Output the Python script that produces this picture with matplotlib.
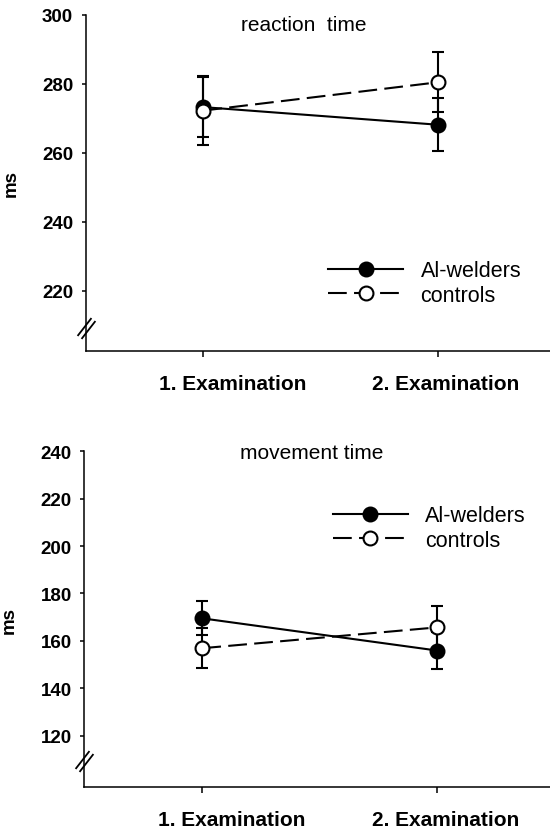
import numpy as np
import matplotlib
matplotlib.use("Agg")
import matplotlib.pyplot as plt
import matplotlib.transforms as mtransforms
from matplotlib.path import Path

plt.rcParams['font.family'] = ['Liberation Sans', 'DejaVu Sans']

# data
exams = ["1. Examination", "2. Examination"]
groups = ["Al-welders", "controls"]

rt_welders = [273.2, 268.1]
rt_welders_err = [8.7, 7.7]
rt_controls = [272.2, 280.4]
rt_controls_err = [10.0, 8.7]
rt_ticks = [220, 240, 260, 280, 300]

mt_welders = [169.5, 155.9]
mt_welders_err = [7.2, 7.8]
mt_controls = [156.9, 165.7]
mt_controls_err = [8.4, 8.9]
mt_ticks = [120, 140, 160, 180, 200, 220, 240]

x = np.arange(1, len(exams) + 1)

fig = plt.figure(figsize=(5.5, 8.29), dpi=100)
W, H = 550, 829

# axes boxes in pixels: left, top, bottom
ax1 = fig.add_axes([85.7 / W, 1 - 352.3 / H, 1 - 85.7 / W, (352.3 - 15.7) / H])
ax2 = fig.add_axes([84.3 / W, 1 - 788.3 / H, 1 - 84.3 / W, (788.3 - 452.3) / H])

# "//" axis break marker
brk = Path([(-9, -7.5), (5, 10.5), (-5, -10.5), (9, 7.5)],
           [Path.MOVETO, Path.LINETO, Path.MOVETO, Path.LINETO])


def panel(ax, title, title_xy, w, werr, c, cerr, ylim, ticks, brk_y, leg_px):
    ax.errorbar(x, w, yerr=werr, fmt="none", ecolor="black", elinewidth=1.5,
                capsize=4.6, capthick=1.5, zorder=2)
    ax.errorbar(x, c, yerr=cerr, fmt="none", ecolor="black", elinewidth=1.5,
                capsize=4.6, capthick=1.5, zorder=2)
    lw, = ax.plot(x, w, color="black", lw=1.5, marker="o", ms=10,
                  mfc="black", mec="black", mew=1.5, zorder=3, label=groups[0])
    lc, = ax.plot(x, c, color="black", lw=1.5, ls=(0, (9, 3.5)), marker="o",
                  ms=10, mfc="white", mec="black", mew=1.5, zorder=4,
                  label=groups[1])

    ax.set_xlim(0.498, 2.479)
    ax.set_ylim(*ylim)
    ax.set_yticks(ticks)
    ax.set_xticks(x)
    ax.set_xticklabels([])
    # category labels sit a bit right of their ticks in the original
    trans = mtransforms.blended_transform_factory(ax.transData, ax.transAxes)
    for xi, lab, dx in zip(x, exams, [21.4, 5.8]):
        off = mtransforms.ScaledTranslation(dx / 72, -16 / 72, fig.dpi_scale_trans)
        ax.text(xi, 0, lab, transform=trans + off, ha="center", va="top",
                fontsize=15, fontweight="bold", clip_on=False)
    for lab in ax.get_yticklabels():
        lab.set_fontweight("bold")
        lab.set_fontsize(13.5)
    ax.tick_params(axis="y", length=3, width=1.1, pad=6, direction="out")
    ax.tick_params(axis="x", length=4, width=1.1, direction="out")

    for s in ["top", "right"]:
        ax.spines[s].set_visible(False)
    for s in ["left", "bottom"]:
        ax.spines[s].set_linewidth(1.1)

    ax.set_ylabel("ms", fontsize=13.5, fontweight="bold")
    ax.yaxis.set_label_coords(-0.142, 0.5)

    ax.text(title_xy[0], title_xy[1], title, transform=ax.transAxes,
            ha="center", va="center", fontsize=15)

    ax.plot([0], [brk_y], transform=ax.transAxes, marker=brk, ms=15,
            mec="black", mew=1.3, ls="none", clip_on=False, zorder=5)

    ax.legend(handles=[lw, lc], loc="center left", frameon=False, fontsize=15.5,
              bbox_to_anchor=(leg_px[0] / W, 1 - leg_px[1] / H),
              bbox_transform=fig.transFigure, borderpad=0, borderaxespad=0,
              handlelength=3.5, handletextpad=0.8, labelspacing=0.18,
              numpoints=1)


panel(ax1, "reaction  time", (0.469, 0.972), rt_welders, rt_welders_err,
      rt_controls, rt_controls_err, (202.4, 300), rt_ticks, 0.069, (328, 284))
panel(ax2, "movement time", (0.488, 0.995), mt_welders, mt_welders_err,
      mt_controls, mt_controls_err, (98.2, 240), mt_ticks, 0.077, (332.6, 529))

fig.savefig("out.png", dpi=100)
